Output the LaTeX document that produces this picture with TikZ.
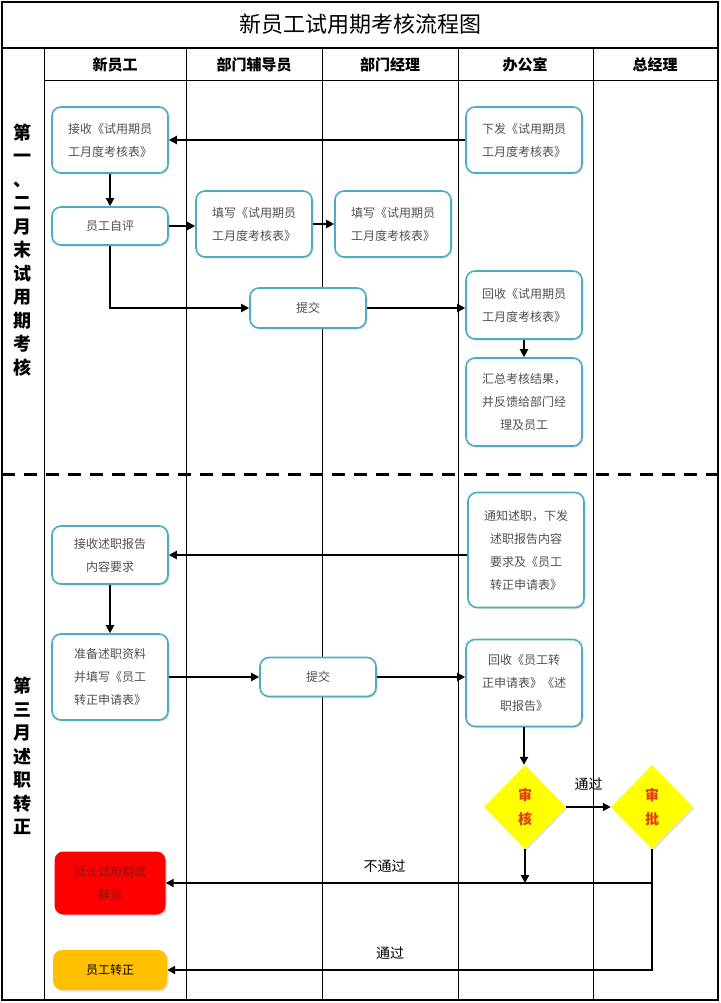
\documentclass[tikz,border=0pt]{standalone}
\usepackage{fontspec}
\setmainfont{Noto Sans CJK SC}
\usetikzlibrary{arrows.meta,positioning,shapes.geometric,shadows}
\definecolor{laneblue}{RGB}{75,172,198}
\definecolor{boxtext}{RGB}{80,80,80}
\definecolor{stopred}{RGB}{255,0,0}
\definecolor{stoptext}{RGB}{140,20,20}
\definecolor{passgold}{RGB}{255,192,0}
\definecolor{checkyellow}{RGB}{255,255,0}
\definecolor{checktext}{RGB}{225,60,20}
\begin{document}
\begin{tikzpicture}[x=1pt,y=-1pt,
		box/.style={draw=laneblue,line width=1.6pt,rounded corners=9pt,fill=white,
				minimum width=116pt,text=boxtext,align=center,
				font=\fontsize{12}{23}\selectfont,
				drop shadow={shadow xshift=1.5pt,shadow yshift=-1.5pt,opacity=0.25}},
		endbox/.style={rounded corners=9pt,minimum width=114pt,align=center,
				font=\fontsize{12}{23}\selectfont,
				drop shadow={shadow xshift=1.5pt,shadow yshift=-1.5pt,opacity=0.25}},
		check/.style={diamond,fill=checkyellow,minimum width=82pt,minimum height=84pt,
				inner sep=0pt,align=center,text=checktext,
				font=\bfseries\fontsize{14}{24}\selectfont,
				drop shadow={shadow xshift=1.5pt,shadow yshift=-1.5pt,opacity=0.25}},
		head/.style={font=\bfseries\fontsize{15}{15}\selectfont},
		lanelabel/.style={align=center,font=\bfseries\fontsize{18}{23.5}\selectfont},
		note/.style={font=\fontsize{14}{14}\selectfont},
		arr/.style={-{Triangle[length=8pt,width=8pt]},line width=2pt}]
	\useasboundingbox (0,0) rectangle (720,1003);
	\draw[line width=1.2pt] (2,2) rectangle (718,1000);
	\draw[line width=1.2pt] (2,48) -- (718,48);
	\draw[line width=1pt] (44,81) -- (718,81);
	\draw[line width=1pt] (44,48) -- (44,1000);
	\foreach \x in {186,322,458,593}
		\draw[line width=0.8pt] (\x,48) -- (\x,1000);
	\draw[line width=3pt,dash pattern=on 13pt off 9pt] (2,474) -- (718,474);

	\node[font=\fontsize{22}{22}\selectfont] (title) at (360,24) {新员工试用期考核流程图};
	\node[head] (hdstaff)  at (115,65) {新员工};
	\node[head] (hdtutor)  at (254,65) {部门辅导员};
	\node[head] (hdmgr)    at (390,65) {部门经理};
	\node[head] (hdoffice) at (525,65) {办公室};
	\node[head] (hdgm)     at (655,65) {总经理};
	\node[lanelabel] (stage1) at (22,250) {第\\一\\、\\二\\月\\末\\试\\用\\期\\考\\核};
	\node[lanelabel] (stage2) at (22,756) {第\\三\\月\\述\\职\\转\\正};

	% first and second month
	\node[box,minimum height=66pt] (recv1)    at (110,140) {接收《试用期员\\工月度考核表》};
	\node[box,minimum height=66pt] (issue1)   at (524,140) {下发《试用期员\\工月度考核表》};
	\node[box,minimum height=38pt] (self)     at (110,226) {员工自评};
	\node[box,minimum height=66pt] (tutor)    at (254,224) {填写《试用期员\\工月度考核表》};
	\node[box,minimum height=66pt] (mgr)      at (393,224) {填写《试用期员\\工月度考核表》};
	\node[box,minimum height=40pt] (submit1)  at (308,308) {提交};
	\node[box,minimum height=68pt] (collect1) at (524,305) {回收《试用期员\\工月度考核表》};
	\node[box,minimum height=88pt] (summary)  at (524,402) {汇总考核结果，\\并反馈给部门经\\理及员工};
	\draw[arr] (issue1) -- (recv1);
	\draw[arr] (recv1) -- (self);
	\draw[arr] (self.east) -- (self.east -| tutor.west);
	\draw[arr] (tutor) -- (mgr);
	\draw[arr] (self.south) |- (submit1.west);
	\draw[arr] (submit1.east) -- (submit1.east -| collect1.west);
	\draw[arr] (collect1) -- (summary);

	% third month
	\node[box,minimum height=115pt] (notify)  at (526,550) {通知述职，下发\\述职报告内容\\要求及《员工\\转正申请表》};
	\node[box,minimum height=58pt] (recv2)    at (110,555) {接收述职报告\\内容要求};
	\node[box,minimum height=86pt] (prep)     at (110,677) {准备述职资料\\并填写《员工\\转正申请表》};
	\node[box,minimum height=39pt] (submit2)  at (318,677) {提交};
	\node[box,minimum height=87pt] (collect2) at (524,683) {回收《员工转\\正申请表》《述\\职报告》};
	\node[check] (review)  at (525,807) {审\\核};
	\node[check] (approve) at (652,807) {审\\批};
	\node[endbox,fill=stopred,text=stoptext,minimum height=63pt,minimum width=111pt] (extend) at (110,883) {延长试用期或\\辞退};
	\node[endbox,fill=passgold,minimum height=40pt] (regular) at (110,970) {员工转正};
	\coordinate (fork) at (approve.south |- extend.east);
	\draw[arr] (notify.west |- recv2) -- (recv2.east);
	\draw[arr] (recv2) -- (prep);
	\draw[arr] (prep) -- (submit2);
	\draw[arr] (submit2.east) -- (submit2.east -| collect2.west);
	\draw[arr] (collect2.south) -- (collect2.south |- review.north);
	\draw[arr] (review) -- (approve) node[note,midway,above=12pt] {通过};
	\draw[arr] (review.south) -- (review.south |- extend.east);
	\draw[arr] (fork) -- (extend.east) node[note,pos=0.55,above=6pt] {不通过};
	\draw[arr] (approve.south) |- (regular.east) node[note,pos=0.77,above=6pt] {通过};
\end{tikzpicture}
\end{document}
